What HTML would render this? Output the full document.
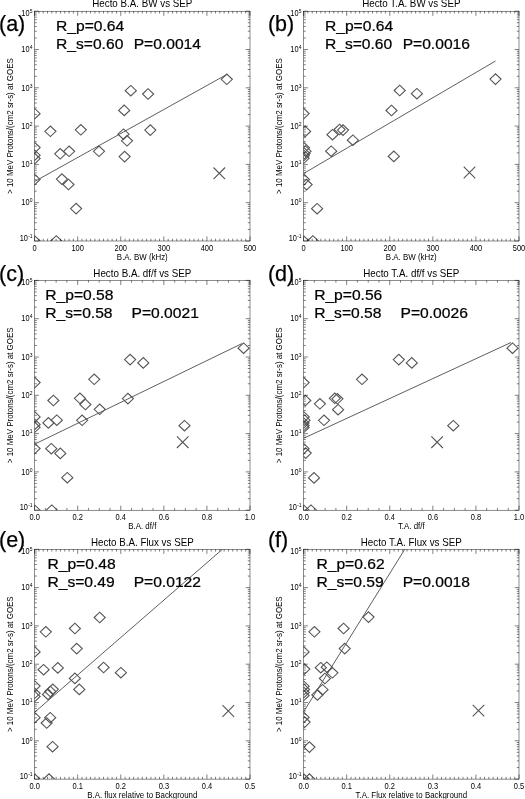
<!DOCTYPE html>
<html><head><meta charset="utf-8"><style>
html,body{margin:0;padding:0;background:#fff;}
svg{display:block;filter:blur(0.5px);}
text{font-family:"Liberation Sans", sans-serif;fill:#000;} .big{stroke:#000;stroke-width:0.25px;}
</style></head><body>
<svg width="525" height="799" viewBox="0 0 525 799">
<rect width="525" height="799" fill="#fff"/>
<clipPath id="c0"><rect x="34.6" y="11.2" width="215.4" height="229.8"/></clipPath>
<g clip-path="url(#c0)" fill="none" stroke="#555" stroke-width="1.1">
<path d="M221.25 79.30L226.80 74.00L232.35 79.30L226.80 84.60Z"/>
<path d="M125.25 90.70L130.80 85.40L136.35 90.70L130.80 96.00Z"/>
<path d="M142.55 94.00L148.10 88.70L153.65 94.00L148.10 99.30Z"/>
<path d="M118.65 110.40L124.20 105.10L129.75 110.40L124.20 115.70Z"/>
<path d="M29.05 113.70L34.60 108.40L40.15 113.70L34.60 119.00Z"/>
<path d="M44.85 131.30L50.40 126.00L55.95 131.30L50.40 136.60Z"/>
<path d="M75.25 129.80L80.80 124.50L86.35 129.80L80.80 135.10Z"/>
<path d="M117.95 134.20L123.50 128.90L129.05 134.20L123.50 139.50Z"/>
<path d="M121.45 140.80L127.00 135.50L132.55 140.80L127.00 146.10Z"/>
<path d="M144.75 130.10L150.30 124.80L155.85 130.10L150.30 135.40Z"/>
<path d="M29.05 147.60L34.60 142.30L40.15 147.60L34.60 152.90Z"/>
<path d="M29.05 155.20L34.60 149.90L40.15 155.20L34.60 160.50Z"/>
<path d="M29.05 158.60L34.60 153.30L40.15 158.60L34.60 163.90Z"/>
<path d="M54.65 153.80L60.20 148.50L65.75 153.80L60.20 159.10Z"/>
<path d="M63.55 151.30L69.10 146.00L74.65 151.30L69.10 156.60Z"/>
<path d="M93.45 151.30L99.00 146.00L104.55 151.30L99.00 156.60Z"/>
<path d="M119.05 156.60L124.60 151.30L130.15 156.60L124.60 161.90Z"/>
<path d="M29.05 179.50L34.60 174.20L40.15 179.50L34.60 184.80Z"/>
<path d="M56.35 179.10L61.90 173.80L67.45 179.10L61.90 184.40Z"/>
<path d="M62.95 184.50L68.50 179.20L74.05 184.50L68.50 189.80Z"/>
<path d="M70.55 208.60L76.10 203.30L81.65 208.60L76.10 213.90Z"/>
<path d="M50.75 241.00L56.30 235.70L61.85 241.00L56.30 246.30Z"/>
<path d="M29.05 241.00L34.60 235.70L40.15 241.00L34.60 246.30Z"/>
<line x1="34.6" y1="181.5" x2="226.5" y2="74.6" stroke-width="0.95"/>
<path d="M213.50 167.50L225.10 179.10M213.50 179.10L225.10 167.50"/>
</g>
<rect x="34.6" y="11.2" width="215.4" height="229.8" fill="none" stroke="#000" stroke-width="0.45"/>
<path d="M34.60 241.00L38.90 241.00M250.00 241.00L245.70 241.00M34.60 229.47L36.80 229.47M250.00 229.47L247.80 229.47M34.60 222.73L36.80 222.73M250.00 222.73L247.80 222.73M34.60 217.94L36.80 217.94M250.00 217.94L247.80 217.94M34.60 214.23L36.80 214.23M250.00 214.23L247.80 214.23M34.60 211.20L36.80 211.20M250.00 211.20L247.80 211.20M34.60 208.63L36.80 208.63M250.00 208.63L247.80 208.63M34.60 206.41L36.80 206.41M250.00 206.41L247.80 206.41M34.60 204.45L36.80 204.45M250.00 204.45L247.80 204.45M34.60 202.70L38.90 202.70M250.00 202.70L245.70 202.70M34.60 191.17L36.80 191.17M250.00 191.17L247.80 191.17M34.60 184.43L36.80 184.43M250.00 184.43L247.80 184.43M34.60 179.64L36.80 179.64M250.00 179.64L247.80 179.64M34.60 175.93L36.80 175.93M250.00 175.93L247.80 175.93M34.60 172.90L36.80 172.90M250.00 172.90L247.80 172.90M34.60 170.33L36.80 170.33M250.00 170.33L247.80 170.33M34.60 168.11L36.80 168.11M250.00 168.11L247.80 168.11M34.60 166.15L36.80 166.15M250.00 166.15L247.80 166.15M34.60 164.40L38.90 164.40M250.00 164.40L245.70 164.40M34.60 152.87L36.80 152.87M250.00 152.87L247.80 152.87M34.60 146.13L36.80 146.13M250.00 146.13L247.80 146.13M34.60 141.34L36.80 141.34M250.00 141.34L247.80 141.34M34.60 137.63L36.80 137.63M250.00 137.63L247.80 137.63M34.60 134.60L36.80 134.60M250.00 134.60L247.80 134.60M34.60 132.03L36.80 132.03M250.00 132.03L247.80 132.03M34.60 129.81L36.80 129.81M250.00 129.81L247.80 129.81M34.60 127.85L36.80 127.85M250.00 127.85L247.80 127.85M34.60 126.10L38.90 126.10M250.00 126.10L245.70 126.10M34.60 114.57L36.80 114.57M250.00 114.57L247.80 114.57M34.60 107.83L36.80 107.83M250.00 107.83L247.80 107.83M34.60 103.04L36.80 103.04M250.00 103.04L247.80 103.04M34.60 99.33L36.80 99.33M250.00 99.33L247.80 99.33M34.60 96.30L36.80 96.30M250.00 96.30L247.80 96.30M34.60 93.73L36.80 93.73M250.00 93.73L247.80 93.73M34.60 91.51L36.80 91.51M250.00 91.51L247.80 91.51M34.60 89.55L36.80 89.55M250.00 89.55L247.80 89.55M34.60 87.80L38.90 87.80M250.00 87.80L245.70 87.80M34.60 76.27L36.80 76.27M250.00 76.27L247.80 76.27M34.60 69.53L36.80 69.53M250.00 69.53L247.80 69.53M34.60 64.74L36.80 64.74M250.00 64.74L247.80 64.74M34.60 61.03L36.80 61.03M250.00 61.03L247.80 61.03M34.60 58.00L36.80 58.00M250.00 58.00L247.80 58.00M34.60 55.43L36.80 55.43M250.00 55.43L247.80 55.43M34.60 53.21L36.80 53.21M250.00 53.21L247.80 53.21M34.60 51.25L36.80 51.25M250.00 51.25L247.80 51.25M34.60 49.50L38.90 49.50M250.00 49.50L245.70 49.50M34.60 37.97L36.80 37.97M250.00 37.97L247.80 37.97M34.60 31.23L36.80 31.23M250.00 31.23L247.80 31.23M34.60 26.44L36.80 26.44M250.00 26.44L247.80 26.44M34.60 22.73L36.80 22.73M250.00 22.73L247.80 22.73M34.60 19.70L36.80 19.70M250.00 19.70L247.80 19.70M34.60 17.13L36.80 17.13M250.00 17.13L247.80 17.13M34.60 14.91L36.80 14.91M250.00 14.91L247.80 14.91M34.60 12.95L36.80 12.95M250.00 12.95L247.80 12.95M34.60 11.20L38.90 11.20M250.00 11.20L245.70 11.20M34.60 241.00L34.60 236.40M34.60 11.20L34.60 15.80M38.91 241.00L38.91 238.70M38.91 11.20L38.91 13.50M43.22 241.00L43.22 238.70M43.22 11.20L43.22 13.50M47.52 241.00L47.52 238.70M47.52 11.20L47.52 13.50M51.83 241.00L51.83 238.70M51.83 11.20L51.83 13.50M56.14 241.00L56.14 238.70M56.14 11.20L56.14 13.50M60.45 241.00L60.45 238.70M60.45 11.20L60.45 13.50M64.76 241.00L64.76 238.70M64.76 11.20L64.76 13.50M69.06 241.00L69.06 238.70M69.06 11.20L69.06 13.50M73.37 241.00L73.37 238.70M73.37 11.20L73.37 13.50M77.68 241.00L77.68 236.40M77.68 11.20L77.68 15.80M81.99 241.00L81.99 238.70M81.99 11.20L81.99 13.50M86.30 241.00L86.30 238.70M86.30 11.20L86.30 13.50M90.60 241.00L90.60 238.70M90.60 11.20L90.60 13.50M94.91 241.00L94.91 238.70M94.91 11.20L94.91 13.50M99.22 241.00L99.22 238.70M99.22 11.20L99.22 13.50M103.53 241.00L103.53 238.70M103.53 11.20L103.53 13.50M107.84 241.00L107.84 238.70M107.84 11.20L107.84 13.50M112.14 241.00L112.14 238.70M112.14 11.20L112.14 13.50M116.45 241.00L116.45 238.70M116.45 11.20L116.45 13.50M120.76 241.00L120.76 236.40M120.76 11.20L120.76 15.80M125.07 241.00L125.07 238.70M125.07 11.20L125.07 13.50M129.38 241.00L129.38 238.70M129.38 11.20L129.38 13.50M133.68 241.00L133.68 238.70M133.68 11.20L133.68 13.50M137.99 241.00L137.99 238.70M137.99 11.20L137.99 13.50M142.30 241.00L142.30 238.70M142.30 11.20L142.30 13.50M146.61 241.00L146.61 238.70M146.61 11.20L146.61 13.50M150.92 241.00L150.92 238.70M150.92 11.20L150.92 13.50M155.22 241.00L155.22 238.70M155.22 11.20L155.22 13.50M159.53 241.00L159.53 238.70M159.53 11.20L159.53 13.50M163.84 241.00L163.84 236.40M163.84 11.20L163.84 15.80M168.15 241.00L168.15 238.70M168.15 11.20L168.15 13.50M172.46 241.00L172.46 238.70M172.46 11.20L172.46 13.50M176.76 241.00L176.76 238.70M176.76 11.20L176.76 13.50M181.07 241.00L181.07 238.70M181.07 11.20L181.07 13.50M185.38 241.00L185.38 238.70M185.38 11.20L185.38 13.50M189.69 241.00L189.69 238.70M189.69 11.20L189.69 13.50M194.00 241.00L194.00 238.70M194.00 11.20L194.00 13.50M198.30 241.00L198.30 238.70M198.30 11.20L198.30 13.50M202.61 241.00L202.61 238.70M202.61 11.20L202.61 13.50M206.92 241.00L206.92 236.40M206.92 11.20L206.92 15.80M211.23 241.00L211.23 238.70M211.23 11.20L211.23 13.50M215.54 241.00L215.54 238.70M215.54 11.20L215.54 13.50M219.84 241.00L219.84 238.70M219.84 11.20L219.84 13.50M224.15 241.00L224.15 238.70M224.15 11.20L224.15 13.50M228.46 241.00L228.46 238.70M228.46 11.20L228.46 13.50M232.77 241.00L232.77 238.70M232.77 11.20L232.77 13.50M237.08 241.00L237.08 238.70M237.08 11.20L237.08 13.50M241.38 241.00L241.38 238.70M241.38 11.20L241.38 13.50M245.69 241.00L245.69 238.70M245.69 11.20L245.69 13.50M250.00 241.00L250.00 236.40M250.00 11.20L250.00 15.80" stroke="#000" stroke-width="0.5" fill="none"/>
<text transform="translate(34.60,251.00) scale(1.0,1.14)" font-size="7.5" text-anchor="middle" >0</text>
<text transform="translate(77.68,251.00) scale(1.0,1.14)" font-size="7.5" text-anchor="middle" >100</text>
<text transform="translate(120.76,251.00) scale(1.0,1.14)" font-size="7.5" text-anchor="middle" >200</text>
<text transform="translate(163.84,251.00) scale(1.0,1.14)" font-size="7.5" text-anchor="middle" >300</text>
<text transform="translate(206.92,251.00) scale(1.0,1.14)" font-size="7.5" text-anchor="middle" >400</text>
<text transform="translate(250.00,251.00) scale(1.0,1.14)" font-size="7.5" text-anchor="middle" >500</text>
<text transform="translate(32.60,241.15) scale(1,1.15)" font-size="7.4" text-anchor="end">10<tspan font-size="5" dx="0.3" dy="-2.6">-1</tspan></text>
<text transform="translate(32.60,205.45) scale(1,1.15)" font-size="7.4" text-anchor="end">10<tspan font-size="5" dx="0.3" dy="-2.6">0</tspan></text>
<text transform="translate(32.60,167.15) scale(1,1.15)" font-size="7.4" text-anchor="end">10<tspan font-size="5" dx="0.3" dy="-2.6">1</tspan></text>
<text transform="translate(32.60,128.85) scale(1,1.15)" font-size="7.4" text-anchor="end">10<tspan font-size="5" dx="0.3" dy="-2.6">2</tspan></text>
<text transform="translate(32.60,90.55) scale(1,1.15)" font-size="7.4" text-anchor="end">10<tspan font-size="5" dx="0.3" dy="-2.6">3</tspan></text>
<text transform="translate(32.60,52.25) scale(1,1.15)" font-size="7.4" text-anchor="end">10<tspan font-size="5" dx="0.3" dy="-2.6">4</tspan></text>
<text transform="translate(32.60,15.95) scale(1,1.15)" font-size="7.4" text-anchor="end">10<tspan font-size="5" dx="0.3" dy="-2.6">5</tspan></text>
<text transform="translate(142.30,7.40) scale(1.0,1.14)" font-size="9.8" text-anchor="middle" >Hecto B.A. BW vs SEP</text>
<text transform="translate(142.30,259.80) scale(1.0,1.14)" font-size="7.9" text-anchor="middle" >B.A. BW (kHz)</text>
<text transform="translate(13.00,126.10) rotate(-90) scale(1,1.22)" x="0" y="0" font-size="7.95" text-anchor="middle">&gt; 10 MeV Protons/(cm2 sr-s) at GOES</text>
<text x="-1.00" y="30.60" font-size="21.5" text-anchor="start" class="big">(a)</text>
<text transform="translate(56.05,31.00) scale(1.015,1.0)" font-size="15.4" text-anchor="start" class="big">R_p=0.64</text>
<text transform="translate(56.05,49.00) scale(1.015,1.0)" font-size="15.4" text-anchor="start" class="big">R_s=0.60</text>
<text transform="translate(133.65,49.00) scale(1.015,1.0)" font-size="15.4" text-anchor="start" class="big">P=0.0014</text>
<clipPath id="c1"><rect x="303.6" y="11.2" width="215.4" height="229.8"/></clipPath>
<g clip-path="url(#c1)" fill="none" stroke="#555" stroke-width="1.1">
<path d="M489.95 79.10L495.50 73.80L501.05 79.10L495.50 84.40Z"/>
<path d="M394.15 90.50L399.70 85.20L405.25 90.50L399.70 95.80Z"/>
<path d="M411.35 93.70L416.90 88.40L422.45 93.70L416.90 99.00Z"/>
<path d="M385.95 110.50L391.50 105.20L397.05 110.50L391.50 115.80Z"/>
<path d="M298.05 113.60L303.60 108.30L309.15 113.60L303.60 118.90Z"/>
<path d="M299.55 131.40L305.10 126.10L310.65 131.40L305.10 136.70Z"/>
<path d="M334.05 129.50L339.60 124.20L345.15 129.50L339.60 134.80Z"/>
<path d="M337.45 130.10L343.00 124.80L348.55 130.10L343.00 135.40Z"/>
<path d="M326.95 134.70L332.50 129.40L338.05 134.70L332.50 140.00Z"/>
<path d="M347.35 140.20L352.90 134.90L358.45 140.20L352.90 145.50Z"/>
<path d="M325.65 151.20L331.20 145.90L336.75 151.20L331.20 156.50Z"/>
<path d="M388.25 156.40L393.80 151.10L399.35 156.40L393.80 161.70Z"/>
<path d="M298.45 147.80L304.00 142.50L309.55 147.80L304.00 153.10Z"/>
<path d="M299.95 151.20L305.50 145.90L311.05 151.20L305.50 156.50Z"/>
<path d="M298.95 153.50L304.50 148.20L310.05 153.50L304.50 158.80Z"/>
<path d="M298.25 155.50L303.80 150.20L309.35 155.50L303.80 160.80Z"/>
<path d="M298.05 158.30L303.60 153.00L309.15 158.30L303.60 163.60Z"/>
<path d="M298.45 179.60L304.00 174.30L309.55 179.60L304.00 184.90Z"/>
<path d="M301.05 184.60L306.60 179.30L312.15 184.60L306.60 189.90Z"/>
<path d="M311.55 208.70L317.10 203.40L322.65 208.70L317.10 214.00Z"/>
<path d="M307.35 241.00L312.90 235.70L318.45 241.00L312.90 246.30Z"/>
<path d="M298.05 241.00L303.60 235.70L309.15 241.00L303.60 246.30Z"/>
<line x1="303.6" y1="173.5" x2="495.5" y2="61.0" stroke-width="0.95"/>
<path d="M463.70 166.70L475.30 178.30M463.70 178.30L475.30 166.70"/>
</g>
<rect x="303.6" y="11.2" width="215.4" height="229.8" fill="none" stroke="#000" stroke-width="0.45"/>
<path d="M303.60 241.00L307.90 241.00M519.00 241.00L514.70 241.00M303.60 229.47L305.80 229.47M519.00 229.47L516.80 229.47M303.60 222.73L305.80 222.73M519.00 222.73L516.80 222.73M303.60 217.94L305.80 217.94M519.00 217.94L516.80 217.94M303.60 214.23L305.80 214.23M519.00 214.23L516.80 214.23M303.60 211.20L305.80 211.20M519.00 211.20L516.80 211.20M303.60 208.63L305.80 208.63M519.00 208.63L516.80 208.63M303.60 206.41L305.80 206.41M519.00 206.41L516.80 206.41M303.60 204.45L305.80 204.45M519.00 204.45L516.80 204.45M303.60 202.70L307.90 202.70M519.00 202.70L514.70 202.70M303.60 191.17L305.80 191.17M519.00 191.17L516.80 191.17M303.60 184.43L305.80 184.43M519.00 184.43L516.80 184.43M303.60 179.64L305.80 179.64M519.00 179.64L516.80 179.64M303.60 175.93L305.80 175.93M519.00 175.93L516.80 175.93M303.60 172.90L305.80 172.90M519.00 172.90L516.80 172.90M303.60 170.33L305.80 170.33M519.00 170.33L516.80 170.33M303.60 168.11L305.80 168.11M519.00 168.11L516.80 168.11M303.60 166.15L305.80 166.15M519.00 166.15L516.80 166.15M303.60 164.40L307.90 164.40M519.00 164.40L514.70 164.40M303.60 152.87L305.80 152.87M519.00 152.87L516.80 152.87M303.60 146.13L305.80 146.13M519.00 146.13L516.80 146.13M303.60 141.34L305.80 141.34M519.00 141.34L516.80 141.34M303.60 137.63L305.80 137.63M519.00 137.63L516.80 137.63M303.60 134.60L305.80 134.60M519.00 134.60L516.80 134.60M303.60 132.03L305.80 132.03M519.00 132.03L516.80 132.03M303.60 129.81L305.80 129.81M519.00 129.81L516.80 129.81M303.60 127.85L305.80 127.85M519.00 127.85L516.80 127.85M303.60 126.10L307.90 126.10M519.00 126.10L514.70 126.10M303.60 114.57L305.80 114.57M519.00 114.57L516.80 114.57M303.60 107.83L305.80 107.83M519.00 107.83L516.80 107.83M303.60 103.04L305.80 103.04M519.00 103.04L516.80 103.04M303.60 99.33L305.80 99.33M519.00 99.33L516.80 99.33M303.60 96.30L305.80 96.30M519.00 96.30L516.80 96.30M303.60 93.73L305.80 93.73M519.00 93.73L516.80 93.73M303.60 91.51L305.80 91.51M519.00 91.51L516.80 91.51M303.60 89.55L305.80 89.55M519.00 89.55L516.80 89.55M303.60 87.80L307.90 87.80M519.00 87.80L514.70 87.80M303.60 76.27L305.80 76.27M519.00 76.27L516.80 76.27M303.60 69.53L305.80 69.53M519.00 69.53L516.80 69.53M303.60 64.74L305.80 64.74M519.00 64.74L516.80 64.74M303.60 61.03L305.80 61.03M519.00 61.03L516.80 61.03M303.60 58.00L305.80 58.00M519.00 58.00L516.80 58.00M303.60 55.43L305.80 55.43M519.00 55.43L516.80 55.43M303.60 53.21L305.80 53.21M519.00 53.21L516.80 53.21M303.60 51.25L305.80 51.25M519.00 51.25L516.80 51.25M303.60 49.50L307.90 49.50M519.00 49.50L514.70 49.50M303.60 37.97L305.80 37.97M519.00 37.97L516.80 37.97M303.60 31.23L305.80 31.23M519.00 31.23L516.80 31.23M303.60 26.44L305.80 26.44M519.00 26.44L516.80 26.44M303.60 22.73L305.80 22.73M519.00 22.73L516.80 22.73M303.60 19.70L305.80 19.70M519.00 19.70L516.80 19.70M303.60 17.13L305.80 17.13M519.00 17.13L516.80 17.13M303.60 14.91L305.80 14.91M519.00 14.91L516.80 14.91M303.60 12.95L305.80 12.95M519.00 12.95L516.80 12.95M303.60 11.20L307.90 11.20M519.00 11.20L514.70 11.20M303.60 241.00L303.60 236.40M303.60 11.20L303.60 15.80M307.91 241.00L307.91 238.70M307.91 11.20L307.91 13.50M312.22 241.00L312.22 238.70M312.22 11.20L312.22 13.50M316.52 241.00L316.52 238.70M316.52 11.20L316.52 13.50M320.83 241.00L320.83 238.70M320.83 11.20L320.83 13.50M325.14 241.00L325.14 238.70M325.14 11.20L325.14 13.50M329.45 241.00L329.45 238.70M329.45 11.20L329.45 13.50M333.76 241.00L333.76 238.70M333.76 11.20L333.76 13.50M338.06 241.00L338.06 238.70M338.06 11.20L338.06 13.50M342.37 241.00L342.37 238.70M342.37 11.20L342.37 13.50M346.68 241.00L346.68 236.40M346.68 11.20L346.68 15.80M350.99 241.00L350.99 238.70M350.99 11.20L350.99 13.50M355.30 241.00L355.30 238.70M355.30 11.20L355.30 13.50M359.60 241.00L359.60 238.70M359.60 11.20L359.60 13.50M363.91 241.00L363.91 238.70M363.91 11.20L363.91 13.50M368.22 241.00L368.22 238.70M368.22 11.20L368.22 13.50M372.53 241.00L372.53 238.70M372.53 11.20L372.53 13.50M376.84 241.00L376.84 238.70M376.84 11.20L376.84 13.50M381.14 241.00L381.14 238.70M381.14 11.20L381.14 13.50M385.45 241.00L385.45 238.70M385.45 11.20L385.45 13.50M389.76 241.00L389.76 236.40M389.76 11.20L389.76 15.80M394.07 241.00L394.07 238.70M394.07 11.20L394.07 13.50M398.38 241.00L398.38 238.70M398.38 11.20L398.38 13.50M402.68 241.00L402.68 238.70M402.68 11.20L402.68 13.50M406.99 241.00L406.99 238.70M406.99 11.20L406.99 13.50M411.30 241.00L411.30 238.70M411.30 11.20L411.30 13.50M415.61 241.00L415.61 238.70M415.61 11.20L415.61 13.50M419.92 241.00L419.92 238.70M419.92 11.20L419.92 13.50M424.22 241.00L424.22 238.70M424.22 11.20L424.22 13.50M428.53 241.00L428.53 238.70M428.53 11.20L428.53 13.50M432.84 241.00L432.84 236.40M432.84 11.20L432.84 15.80M437.15 241.00L437.15 238.70M437.15 11.20L437.15 13.50M441.46 241.00L441.46 238.70M441.46 11.20L441.46 13.50M445.76 241.00L445.76 238.70M445.76 11.20L445.76 13.50M450.07 241.00L450.07 238.70M450.07 11.20L450.07 13.50M454.38 241.00L454.38 238.70M454.38 11.20L454.38 13.50M458.69 241.00L458.69 238.70M458.69 11.20L458.69 13.50M463.00 241.00L463.00 238.70M463.00 11.20L463.00 13.50M467.30 241.00L467.30 238.70M467.30 11.20L467.30 13.50M471.61 241.00L471.61 238.70M471.61 11.20L471.61 13.50M475.92 241.00L475.92 236.40M475.92 11.20L475.92 15.80M480.23 241.00L480.23 238.70M480.23 11.20L480.23 13.50M484.54 241.00L484.54 238.70M484.54 11.20L484.54 13.50M488.84 241.00L488.84 238.70M488.84 11.20L488.84 13.50M493.15 241.00L493.15 238.70M493.15 11.20L493.15 13.50M497.46 241.00L497.46 238.70M497.46 11.20L497.46 13.50M501.77 241.00L501.77 238.70M501.77 11.20L501.77 13.50M506.08 241.00L506.08 238.70M506.08 11.20L506.08 13.50M510.38 241.00L510.38 238.70M510.38 11.20L510.38 13.50M514.69 241.00L514.69 238.70M514.69 11.20L514.69 13.50M519.00 241.00L519.00 236.40M519.00 11.20L519.00 15.80" stroke="#000" stroke-width="0.5" fill="none"/>
<text transform="translate(303.60,251.00) scale(1.0,1.14)" font-size="7.5" text-anchor="middle" >0</text>
<text transform="translate(346.68,251.00) scale(1.0,1.14)" font-size="7.5" text-anchor="middle" >100</text>
<text transform="translate(389.76,251.00) scale(1.0,1.14)" font-size="7.5" text-anchor="middle" >200</text>
<text transform="translate(432.84,251.00) scale(1.0,1.14)" font-size="7.5" text-anchor="middle" >300</text>
<text transform="translate(475.92,251.00) scale(1.0,1.14)" font-size="7.5" text-anchor="middle" >400</text>
<text transform="translate(519.00,251.00) scale(1.0,1.14)" font-size="7.5" text-anchor="middle" >500</text>
<text transform="translate(301.60,241.15) scale(1,1.15)" font-size="7.4" text-anchor="end">10<tspan font-size="5" dx="0.3" dy="-2.6">-1</tspan></text>
<text transform="translate(301.60,205.45) scale(1,1.15)" font-size="7.4" text-anchor="end">10<tspan font-size="5" dx="0.3" dy="-2.6">0</tspan></text>
<text transform="translate(301.60,167.15) scale(1,1.15)" font-size="7.4" text-anchor="end">10<tspan font-size="5" dx="0.3" dy="-2.6">1</tspan></text>
<text transform="translate(301.60,128.85) scale(1,1.15)" font-size="7.4" text-anchor="end">10<tspan font-size="5" dx="0.3" dy="-2.6">2</tspan></text>
<text transform="translate(301.60,90.55) scale(1,1.15)" font-size="7.4" text-anchor="end">10<tspan font-size="5" dx="0.3" dy="-2.6">3</tspan></text>
<text transform="translate(301.60,52.25) scale(1,1.15)" font-size="7.4" text-anchor="end">10<tspan font-size="5" dx="0.3" dy="-2.6">4</tspan></text>
<text transform="translate(301.60,15.95) scale(1,1.15)" font-size="7.4" text-anchor="end">10<tspan font-size="5" dx="0.3" dy="-2.6">5</tspan></text>
<text transform="translate(411.30,7.40) scale(1.0,1.14)" font-size="9.8" text-anchor="middle" >Hecto T.A. BW vs SEP</text>
<text transform="translate(411.30,259.80) scale(1.0,1.14)" font-size="7.9" text-anchor="middle" >B.A. BW (kHz)</text>
<text transform="translate(282.00,126.10) rotate(-90) scale(1,1.22)" x="0" y="0" font-size="7.95" text-anchor="middle">&gt; 10 MeV Protons/(cm2 sr-s) at GOES</text>
<text x="267.90" y="30.60" font-size="21.5" text-anchor="start" class="big">(b)</text>
<text transform="translate(324.95,31.00) scale(1.015,1.0)" font-size="15.4" text-anchor="start" class="big">R_p=0.64</text>
<text transform="translate(324.95,49.00) scale(1.015,1.0)" font-size="15.4" text-anchor="start" class="big">R_s=0.60</text>
<text transform="translate(402.65,49.00) scale(1.015,1.0)" font-size="15.4" text-anchor="start" class="big">P=0.0016</text>
<clipPath id="c2"><rect x="34.6" y="280.4" width="215.4" height="229.8"/></clipPath>
<g clip-path="url(#c2)" fill="none" stroke="#555" stroke-width="1.1">
<path d="M238.05 348.20L243.60 342.90L249.15 348.20L243.60 353.50Z"/>
<path d="M124.55 359.60L130.10 354.30L135.65 359.60L130.10 364.90Z"/>
<path d="M137.75 362.90L143.30 357.60L148.85 362.90L143.30 368.20Z"/>
<path d="M88.65 379.30L94.20 374.00L99.75 379.30L94.20 384.60Z"/>
<path d="M29.05 382.60L34.60 377.30L40.15 382.60L34.60 387.90Z"/>
<path d="M47.85 400.50L53.40 395.20L58.95 400.50L53.40 405.80Z"/>
<path d="M74.35 398.30L79.90 393.00L85.45 398.30L79.90 403.60Z"/>
<path d="M79.85 404.50L85.40 399.20L90.95 404.50L85.40 409.80Z"/>
<path d="M122.35 398.60L127.90 393.30L133.45 398.60L127.90 403.90Z"/>
<path d="M94.15 409.30L99.70 404.00L105.25 409.30L99.70 414.60Z"/>
<path d="M29.05 416.90L34.60 411.60L40.15 416.90L34.60 422.20Z"/>
<path d="M29.05 424.40L34.60 419.10L40.15 424.40L34.60 429.70Z"/>
<path d="M29.05 427.30L34.60 422.00L40.15 427.30L34.60 432.60Z"/>
<path d="M42.85 422.90L48.40 417.60L53.95 422.90L48.40 428.20Z"/>
<path d="M51.25 420.20L56.80 414.90L62.35 420.20L56.80 425.50Z"/>
<path d="M76.55 420.30L82.10 415.00L87.65 420.30L82.10 425.60Z"/>
<path d="M178.95 425.70L184.50 420.40L190.05 425.70L184.50 431.00Z"/>
<path d="M29.05 448.50L34.60 443.20L40.15 448.50L34.60 453.80Z"/>
<path d="M45.75 448.70L51.30 443.40L56.85 448.70L51.30 454.00Z"/>
<path d="M54.75 453.40L60.30 448.10L65.85 453.40L60.30 458.70Z"/>
<path d="M61.75 477.70L67.30 472.40L72.85 477.70L67.30 483.00Z"/>
<path d="M46.25 510.20L51.80 504.90L57.35 510.20L51.80 515.50Z"/>
<path d="M29.05 510.20L34.60 504.90L40.15 510.20L34.60 515.50Z"/>
<line x1="34.6" y1="444.2" x2="241.9" y2="343.6" stroke-width="0.95"/>
<path d="M176.90 436.40L188.50 448.00M176.90 448.00L188.50 436.40"/>
</g>
<rect x="34.6" y="280.4" width="215.4" height="229.8" fill="none" stroke="#000" stroke-width="0.45"/>
<path d="M34.60 510.20L38.90 510.20M250.00 510.20L245.70 510.20M34.60 498.67L36.80 498.67M250.00 498.67L247.80 498.67M34.60 491.93L36.80 491.93M250.00 491.93L247.80 491.93M34.60 487.14L36.80 487.14M250.00 487.14L247.80 487.14M34.60 483.43L36.80 483.43M250.00 483.43L247.80 483.43M34.60 480.40L36.80 480.40M250.00 480.40L247.80 480.40M34.60 477.83L36.80 477.83M250.00 477.83L247.80 477.83M34.60 475.61L36.80 475.61M250.00 475.61L247.80 475.61M34.60 473.65L36.80 473.65M250.00 473.65L247.80 473.65M34.60 471.90L38.90 471.90M250.00 471.90L245.70 471.90M34.60 460.37L36.80 460.37M250.00 460.37L247.80 460.37M34.60 453.63L36.80 453.63M250.00 453.63L247.80 453.63M34.60 448.84L36.80 448.84M250.00 448.84L247.80 448.84M34.60 445.13L36.80 445.13M250.00 445.13L247.80 445.13M34.60 442.10L36.80 442.10M250.00 442.10L247.80 442.10M34.60 439.53L36.80 439.53M250.00 439.53L247.80 439.53M34.60 437.31L36.80 437.31M250.00 437.31L247.80 437.31M34.60 435.35L36.80 435.35M250.00 435.35L247.80 435.35M34.60 433.60L38.90 433.60M250.00 433.60L245.70 433.60M34.60 422.07L36.80 422.07M250.00 422.07L247.80 422.07M34.60 415.33L36.80 415.33M250.00 415.33L247.80 415.33M34.60 410.54L36.80 410.54M250.00 410.54L247.80 410.54M34.60 406.83L36.80 406.83M250.00 406.83L247.80 406.83M34.60 403.80L36.80 403.80M250.00 403.80L247.80 403.80M34.60 401.23L36.80 401.23M250.00 401.23L247.80 401.23M34.60 399.01L36.80 399.01M250.00 399.01L247.80 399.01M34.60 397.05L36.80 397.05M250.00 397.05L247.80 397.05M34.60 395.30L38.90 395.30M250.00 395.30L245.70 395.30M34.60 383.77L36.80 383.77M250.00 383.77L247.80 383.77M34.60 377.03L36.80 377.03M250.00 377.03L247.80 377.03M34.60 372.24L36.80 372.24M250.00 372.24L247.80 372.24M34.60 368.53L36.80 368.53M250.00 368.53L247.80 368.53M34.60 365.50L36.80 365.50M250.00 365.50L247.80 365.50M34.60 362.93L36.80 362.93M250.00 362.93L247.80 362.93M34.60 360.71L36.80 360.71M250.00 360.71L247.80 360.71M34.60 358.75L36.80 358.75M250.00 358.75L247.80 358.75M34.60 357.00L38.90 357.00M250.00 357.00L245.70 357.00M34.60 345.47L36.80 345.47M250.00 345.47L247.80 345.47M34.60 338.73L36.80 338.73M250.00 338.73L247.80 338.73M34.60 333.94L36.80 333.94M250.00 333.94L247.80 333.94M34.60 330.23L36.80 330.23M250.00 330.23L247.80 330.23M34.60 327.20L36.80 327.20M250.00 327.20L247.80 327.20M34.60 324.63L36.80 324.63M250.00 324.63L247.80 324.63M34.60 322.41L36.80 322.41M250.00 322.41L247.80 322.41M34.60 320.45L36.80 320.45M250.00 320.45L247.80 320.45M34.60 318.70L38.90 318.70M250.00 318.70L245.70 318.70M34.60 307.17L36.80 307.17M250.00 307.17L247.80 307.17M34.60 300.43L36.80 300.43M250.00 300.43L247.80 300.43M34.60 295.64L36.80 295.64M250.00 295.64L247.80 295.64M34.60 291.93L36.80 291.93M250.00 291.93L247.80 291.93M34.60 288.90L36.80 288.90M250.00 288.90L247.80 288.90M34.60 286.33L36.80 286.33M250.00 286.33L247.80 286.33M34.60 284.11L36.80 284.11M250.00 284.11L247.80 284.11M34.60 282.15L36.80 282.15M250.00 282.15L247.80 282.15M34.60 280.40L38.90 280.40M250.00 280.40L245.70 280.40M34.60 510.20L34.60 505.60M34.60 280.40L34.60 285.00M45.37 510.20L45.37 507.90M45.37 280.40L45.37 282.70M56.14 510.20L56.14 507.90M56.14 280.40L56.14 282.70M66.91 510.20L66.91 507.90M66.91 280.40L66.91 282.70M77.68 510.20L77.68 505.60M77.68 280.40L77.68 285.00M88.45 510.20L88.45 507.90M88.45 280.40L88.45 282.70M99.22 510.20L99.22 507.90M99.22 280.40L99.22 282.70M109.99 510.20L109.99 507.90M109.99 280.40L109.99 282.70M120.76 510.20L120.76 505.60M120.76 280.40L120.76 285.00M131.53 510.20L131.53 507.90M131.53 280.40L131.53 282.70M142.30 510.20L142.30 507.90M142.30 280.40L142.30 282.70M153.07 510.20L153.07 507.90M153.07 280.40L153.07 282.70M163.84 510.20L163.84 505.60M163.84 280.40L163.84 285.00M174.61 510.20L174.61 507.90M174.61 280.40L174.61 282.70M185.38 510.20L185.38 507.90M185.38 280.40L185.38 282.70M196.15 510.20L196.15 507.90M196.15 280.40L196.15 282.70M206.92 510.20L206.92 505.60M206.92 280.40L206.92 285.00M217.69 510.20L217.69 507.90M217.69 280.40L217.69 282.70M228.46 510.20L228.46 507.90M228.46 280.40L228.46 282.70M239.23 510.20L239.23 507.90M239.23 280.40L239.23 282.70M250.00 510.20L250.00 505.60M250.00 280.40L250.00 285.00" stroke="#000" stroke-width="0.5" fill="none"/>
<text transform="translate(34.60,520.20) scale(1.0,1.14)" font-size="7.5" text-anchor="middle" >0.0</text>
<text transform="translate(77.68,520.20) scale(1.0,1.14)" font-size="7.5" text-anchor="middle" >0.2</text>
<text transform="translate(120.76,520.20) scale(1.0,1.14)" font-size="7.5" text-anchor="middle" >0.4</text>
<text transform="translate(163.84,520.20) scale(1.0,1.14)" font-size="7.5" text-anchor="middle" >0.6</text>
<text transform="translate(206.92,520.20) scale(1.0,1.14)" font-size="7.5" text-anchor="middle" >0.8</text>
<text transform="translate(250.00,520.20) scale(1.0,1.14)" font-size="7.5" text-anchor="middle" >1.0</text>
<text transform="translate(32.60,510.35) scale(1,1.15)" font-size="7.4" text-anchor="end">10<tspan font-size="5" dx="0.3" dy="-2.6">-1</tspan></text>
<text transform="translate(32.60,474.65) scale(1,1.15)" font-size="7.4" text-anchor="end">10<tspan font-size="5" dx="0.3" dy="-2.6">0</tspan></text>
<text transform="translate(32.60,436.35) scale(1,1.15)" font-size="7.4" text-anchor="end">10<tspan font-size="5" dx="0.3" dy="-2.6">1</tspan></text>
<text transform="translate(32.60,398.05) scale(1,1.15)" font-size="7.4" text-anchor="end">10<tspan font-size="5" dx="0.3" dy="-2.6">2</tspan></text>
<text transform="translate(32.60,359.75) scale(1,1.15)" font-size="7.4" text-anchor="end">10<tspan font-size="5" dx="0.3" dy="-2.6">3</tspan></text>
<text transform="translate(32.60,321.45) scale(1,1.15)" font-size="7.4" text-anchor="end">10<tspan font-size="5" dx="0.3" dy="-2.6">4</tspan></text>
<text transform="translate(32.60,285.15) scale(1,1.15)" font-size="7.4" text-anchor="end">10<tspan font-size="5" dx="0.3" dy="-2.6">5</tspan></text>
<text transform="translate(142.30,276.60) scale(1.0,1.14)" font-size="9.8" text-anchor="middle" >Hecto B.A. df/f vs SEP</text>
<text transform="translate(142.30,529.00) scale(1.0,1.14)" font-size="7.9" text-anchor="middle" >B.A. df/f</text>
<text transform="translate(13.00,395.30) rotate(-90) scale(1,1.22)" x="0" y="0" font-size="7.95" text-anchor="middle">&gt; 10 MeV Protons/(cm2 sr-s) at GOES</text>
<text x="-1.00" y="280.80" font-size="21.5" text-anchor="start" class="big">(c)</text>
<text transform="translate(45.25,300.10) scale(1.015,1.0)" font-size="15.4" text-anchor="start" class="big">R_p=0.58</text>
<text transform="translate(45.25,318.10) scale(1.015,1.0)" font-size="15.4" text-anchor="start" class="big">R_s=0.58</text>
<text transform="translate(131.55,318.10) scale(1.015,1.0)" font-size="15.4" text-anchor="start" class="big">P=0.0021</text>
<clipPath id="c3"><rect x="303.6" y="280.4" width="215.4" height="229.8"/></clipPath>
<g clip-path="url(#c3)" fill="none" stroke="#555" stroke-width="1.1">
<path d="M506.95 348.20L512.50 342.90L518.05 348.20L512.50 353.50Z"/>
<path d="M393.25 359.60L398.80 354.30L404.35 359.60L398.80 364.90Z"/>
<path d="M406.25 362.90L411.80 357.60L417.35 362.90L411.80 368.20Z"/>
<path d="M356.45 379.30L362.00 374.00L367.55 379.30L362.00 384.60Z"/>
<path d="M298.05 382.60L303.60 377.30L309.15 382.60L303.60 387.90Z"/>
<path d="M299.75 400.50L305.30 395.20L310.85 400.50L305.30 405.80Z"/>
<path d="M314.35 403.80L319.90 398.50L325.45 403.80L319.90 409.10Z"/>
<path d="M329.25 398.30L334.80 393.00L340.35 398.30L334.80 403.60Z"/>
<path d="M331.85 398.80L337.40 393.50L342.95 398.80L337.40 404.10Z"/>
<path d="M332.55 409.70L338.10 404.40L343.65 409.70L338.10 415.00Z"/>
<path d="M318.45 420.30L324.00 415.00L329.55 420.30L324.00 425.60Z"/>
<path d="M298.25 417.00L303.80 411.70L309.35 417.00L303.80 422.30Z"/>
<path d="M298.95 420.20L304.50 414.90L310.05 420.20L304.50 425.50Z"/>
<path d="M298.05 423.00L303.60 417.70L309.15 423.00L303.60 428.30Z"/>
<path d="M298.05 425.50L303.60 420.20L309.15 425.50L303.60 430.80Z"/>
<path d="M298.05 427.50L303.60 422.20L309.15 427.50L303.60 432.80Z"/>
<path d="M447.75 425.70L453.30 420.40L458.85 425.70L453.30 431.00Z"/>
<path d="M298.05 448.70L303.60 443.40L309.15 448.70L303.60 454.00Z"/>
<path d="M300.15 453.10L305.70 447.80L311.25 453.10L305.70 458.40Z"/>
<path d="M308.45 477.90L314.00 472.60L319.55 477.90L314.00 483.20Z"/>
<path d="M305.45 510.20L311.00 504.90L316.55 510.20L311.00 515.50Z"/>
<path d="M298.05 510.20L303.60 504.90L309.15 510.20L303.60 515.50Z"/>
<line x1="303.6" y1="438.3" x2="511.0" y2="342.5" stroke-width="0.95"/>
<path d="M431.30 436.40L442.90 448.00M431.30 448.00L442.90 436.40"/>
</g>
<rect x="303.6" y="280.4" width="215.4" height="229.8" fill="none" stroke="#000" stroke-width="0.45"/>
<path d="M303.60 510.20L307.90 510.20M519.00 510.20L514.70 510.20M303.60 498.67L305.80 498.67M519.00 498.67L516.80 498.67M303.60 491.93L305.80 491.93M519.00 491.93L516.80 491.93M303.60 487.14L305.80 487.14M519.00 487.14L516.80 487.14M303.60 483.43L305.80 483.43M519.00 483.43L516.80 483.43M303.60 480.40L305.80 480.40M519.00 480.40L516.80 480.40M303.60 477.83L305.80 477.83M519.00 477.83L516.80 477.83M303.60 475.61L305.80 475.61M519.00 475.61L516.80 475.61M303.60 473.65L305.80 473.65M519.00 473.65L516.80 473.65M303.60 471.90L307.90 471.90M519.00 471.90L514.70 471.90M303.60 460.37L305.80 460.37M519.00 460.37L516.80 460.37M303.60 453.63L305.80 453.63M519.00 453.63L516.80 453.63M303.60 448.84L305.80 448.84M519.00 448.84L516.80 448.84M303.60 445.13L305.80 445.13M519.00 445.13L516.80 445.13M303.60 442.10L305.80 442.10M519.00 442.10L516.80 442.10M303.60 439.53L305.80 439.53M519.00 439.53L516.80 439.53M303.60 437.31L305.80 437.31M519.00 437.31L516.80 437.31M303.60 435.35L305.80 435.35M519.00 435.35L516.80 435.35M303.60 433.60L307.90 433.60M519.00 433.60L514.70 433.60M303.60 422.07L305.80 422.07M519.00 422.07L516.80 422.07M303.60 415.33L305.80 415.33M519.00 415.33L516.80 415.33M303.60 410.54L305.80 410.54M519.00 410.54L516.80 410.54M303.60 406.83L305.80 406.83M519.00 406.83L516.80 406.83M303.60 403.80L305.80 403.80M519.00 403.80L516.80 403.80M303.60 401.23L305.80 401.23M519.00 401.23L516.80 401.23M303.60 399.01L305.80 399.01M519.00 399.01L516.80 399.01M303.60 397.05L305.80 397.05M519.00 397.05L516.80 397.05M303.60 395.30L307.90 395.30M519.00 395.30L514.70 395.30M303.60 383.77L305.80 383.77M519.00 383.77L516.80 383.77M303.60 377.03L305.80 377.03M519.00 377.03L516.80 377.03M303.60 372.24L305.80 372.24M519.00 372.24L516.80 372.24M303.60 368.53L305.80 368.53M519.00 368.53L516.80 368.53M303.60 365.50L305.80 365.50M519.00 365.50L516.80 365.50M303.60 362.93L305.80 362.93M519.00 362.93L516.80 362.93M303.60 360.71L305.80 360.71M519.00 360.71L516.80 360.71M303.60 358.75L305.80 358.75M519.00 358.75L516.80 358.75M303.60 357.00L307.90 357.00M519.00 357.00L514.70 357.00M303.60 345.47L305.80 345.47M519.00 345.47L516.80 345.47M303.60 338.73L305.80 338.73M519.00 338.73L516.80 338.73M303.60 333.94L305.80 333.94M519.00 333.94L516.80 333.94M303.60 330.23L305.80 330.23M519.00 330.23L516.80 330.23M303.60 327.20L305.80 327.20M519.00 327.20L516.80 327.20M303.60 324.63L305.80 324.63M519.00 324.63L516.80 324.63M303.60 322.41L305.80 322.41M519.00 322.41L516.80 322.41M303.60 320.45L305.80 320.45M519.00 320.45L516.80 320.45M303.60 318.70L307.90 318.70M519.00 318.70L514.70 318.70M303.60 307.17L305.80 307.17M519.00 307.17L516.80 307.17M303.60 300.43L305.80 300.43M519.00 300.43L516.80 300.43M303.60 295.64L305.80 295.64M519.00 295.64L516.80 295.64M303.60 291.93L305.80 291.93M519.00 291.93L516.80 291.93M303.60 288.90L305.80 288.90M519.00 288.90L516.80 288.90M303.60 286.33L305.80 286.33M519.00 286.33L516.80 286.33M303.60 284.11L305.80 284.11M519.00 284.11L516.80 284.11M303.60 282.15L305.80 282.15M519.00 282.15L516.80 282.15M303.60 280.40L307.90 280.40M519.00 280.40L514.70 280.40M303.60 510.20L303.60 505.60M303.60 280.40L303.60 285.00M314.37 510.20L314.37 507.90M314.37 280.40L314.37 282.70M325.14 510.20L325.14 507.90M325.14 280.40L325.14 282.70M335.91 510.20L335.91 507.90M335.91 280.40L335.91 282.70M346.68 510.20L346.68 505.60M346.68 280.40L346.68 285.00M357.45 510.20L357.45 507.90M357.45 280.40L357.45 282.70M368.22 510.20L368.22 507.90M368.22 280.40L368.22 282.70M378.99 510.20L378.99 507.90M378.99 280.40L378.99 282.70M389.76 510.20L389.76 505.60M389.76 280.40L389.76 285.00M400.53 510.20L400.53 507.90M400.53 280.40L400.53 282.70M411.30 510.20L411.30 507.90M411.30 280.40L411.30 282.70M422.07 510.20L422.07 507.90M422.07 280.40L422.07 282.70M432.84 510.20L432.84 505.60M432.84 280.40L432.84 285.00M443.61 510.20L443.61 507.90M443.61 280.40L443.61 282.70M454.38 510.20L454.38 507.90M454.38 280.40L454.38 282.70M465.15 510.20L465.15 507.90M465.15 280.40L465.15 282.70M475.92 510.20L475.92 505.60M475.92 280.40L475.92 285.00M486.69 510.20L486.69 507.90M486.69 280.40L486.69 282.70M497.46 510.20L497.46 507.90M497.46 280.40L497.46 282.70M508.23 510.20L508.23 507.90M508.23 280.40L508.23 282.70M519.00 510.20L519.00 505.60M519.00 280.40L519.00 285.00" stroke="#000" stroke-width="0.5" fill="none"/>
<text transform="translate(303.60,520.20) scale(1.0,1.14)" font-size="7.5" text-anchor="middle" >0.0</text>
<text transform="translate(346.68,520.20) scale(1.0,1.14)" font-size="7.5" text-anchor="middle" >0.2</text>
<text transform="translate(389.76,520.20) scale(1.0,1.14)" font-size="7.5" text-anchor="middle" >0.4</text>
<text transform="translate(432.84,520.20) scale(1.0,1.14)" font-size="7.5" text-anchor="middle" >0.6</text>
<text transform="translate(475.92,520.20) scale(1.0,1.14)" font-size="7.5" text-anchor="middle" >0.8</text>
<text transform="translate(519.00,520.20) scale(1.0,1.14)" font-size="7.5" text-anchor="middle" >1.0</text>
<text transform="translate(301.60,510.35) scale(1,1.15)" font-size="7.4" text-anchor="end">10<tspan font-size="5" dx="0.3" dy="-2.6">-1</tspan></text>
<text transform="translate(301.60,474.65) scale(1,1.15)" font-size="7.4" text-anchor="end">10<tspan font-size="5" dx="0.3" dy="-2.6">0</tspan></text>
<text transform="translate(301.60,436.35) scale(1,1.15)" font-size="7.4" text-anchor="end">10<tspan font-size="5" dx="0.3" dy="-2.6">1</tspan></text>
<text transform="translate(301.60,398.05) scale(1,1.15)" font-size="7.4" text-anchor="end">10<tspan font-size="5" dx="0.3" dy="-2.6">2</tspan></text>
<text transform="translate(301.60,359.75) scale(1,1.15)" font-size="7.4" text-anchor="end">10<tspan font-size="5" dx="0.3" dy="-2.6">3</tspan></text>
<text transform="translate(301.60,321.45) scale(1,1.15)" font-size="7.4" text-anchor="end">10<tspan font-size="5" dx="0.3" dy="-2.6">4</tspan></text>
<text transform="translate(301.60,285.15) scale(1,1.15)" font-size="7.4" text-anchor="end">10<tspan font-size="5" dx="0.3" dy="-2.6">5</tspan></text>
<text transform="translate(411.30,276.60) scale(1.0,1.14)" font-size="9.8" text-anchor="middle" >Hecto T.A. df/f vs SEP</text>
<text transform="translate(411.30,529.00) scale(1.0,1.14)" font-size="7.9" text-anchor="middle" >T.A. df/f</text>
<text transform="translate(282.00,395.30) rotate(-90) scale(1,1.22)" x="0" y="0" font-size="7.95" text-anchor="middle">&gt; 10 MeV Protons/(cm2 sr-s) at GOES</text>
<text x="267.90" y="280.80" font-size="21.5" text-anchor="start" class="big">(d)</text>
<text transform="translate(314.15,300.10) scale(1.015,1.0)" font-size="15.4" text-anchor="start" class="big">R_p=0.56</text>
<text transform="translate(314.15,318.10) scale(1.015,1.0)" font-size="15.4" text-anchor="start" class="big">R_s=0.58</text>
<text transform="translate(400.55,318.10) scale(1.015,1.0)" font-size="15.4" text-anchor="start" class="big">P=0.0026</text>
<clipPath id="c4"><rect x="34.6" y="549.3" width="215.4" height="229.8"/></clipPath>
<g clip-path="url(#c4)" fill="none" stroke="#555" stroke-width="1.1">
<path d="M94.15 617.50L99.70 612.20L105.25 617.50L99.70 622.80Z"/>
<path d="M40.25 631.80L45.80 626.50L51.35 631.80L45.80 637.10Z"/>
<path d="M69.35 628.50L74.90 623.20L80.45 628.50L74.90 633.80Z"/>
<path d="M71.15 648.60L76.70 643.30L82.25 648.60L76.70 653.90Z"/>
<path d="M29.05 651.90L34.60 646.60L40.15 651.90L34.60 657.20Z"/>
<path d="M38.05 669.70L43.60 664.40L49.15 669.70L43.60 675.00Z"/>
<path d="M52.25 667.90L57.80 662.60L63.35 667.90L57.80 673.20Z"/>
<path d="M98.05 667.50L103.60 662.20L109.15 667.50L103.60 672.80Z"/>
<path d="M115.35 672.70L120.90 667.40L126.45 672.70L120.90 678.00Z"/>
<path d="M69.35 678.40L74.90 673.10L80.45 678.40L74.90 683.70Z"/>
<path d="M73.75 689.40L79.30 684.10L84.85 689.40L79.30 694.70Z"/>
<path d="M29.05 686.00L34.60 680.70L40.15 686.00L34.60 691.30Z"/>
<path d="M29.05 693.30L34.60 688.00L40.15 693.30L34.60 698.60Z"/>
<path d="M29.05 696.50L34.60 691.20L40.15 696.50L34.60 701.80Z"/>
<path d="M47.25 689.30L52.80 684.00L58.35 689.30L52.80 694.60Z"/>
<path d="M44.75 691.50L50.30 686.20L55.85 691.50L50.30 696.80Z"/>
<path d="M42.45 694.40L48.00 689.10L53.55 694.40L48.00 699.70Z"/>
<path d="M29.05 717.70L34.60 712.40L40.15 717.70L34.60 723.00Z"/>
<path d="M44.65 717.70L50.20 712.40L55.75 717.70L50.20 723.00Z"/>
<path d="M41.15 723.00L46.70 717.70L52.25 723.00L46.70 728.30Z"/>
<path d="M47.05 746.70L52.60 741.40L58.15 746.70L52.60 752.00Z"/>
<path d="M43.45 779.10L49.00 773.80L54.55 779.10L49.00 784.40Z"/>
<path d="M29.05 779.10L34.60 773.80L40.15 779.10L34.60 784.40Z"/>
<line x1="34.6" y1="712.3" x2="222.4" y2="549.3" stroke-width="0.95"/>
<path d="M222.50 705.20L234.10 716.80M222.50 716.80L234.10 705.20"/>
</g>
<rect x="34.6" y="549.3" width="215.4" height="229.8" fill="none" stroke="#000" stroke-width="0.45"/>
<path d="M34.60 779.10L38.90 779.10M250.00 779.10L245.70 779.10M34.60 767.57L36.80 767.57M250.00 767.57L247.80 767.57M34.60 760.83L36.80 760.83M250.00 760.83L247.80 760.83M34.60 756.04L36.80 756.04M250.00 756.04L247.80 756.04M34.60 752.33L36.80 752.33M250.00 752.33L247.80 752.33M34.60 749.30L36.80 749.30M250.00 749.30L247.80 749.30M34.60 746.73L36.80 746.73M250.00 746.73L247.80 746.73M34.60 744.51L36.80 744.51M250.00 744.51L247.80 744.51M34.60 742.55L36.80 742.55M250.00 742.55L247.80 742.55M34.60 740.80L38.90 740.80M250.00 740.80L245.70 740.80M34.60 729.27L36.80 729.27M250.00 729.27L247.80 729.27M34.60 722.53L36.80 722.53M250.00 722.53L247.80 722.53M34.60 717.74L36.80 717.74M250.00 717.74L247.80 717.74M34.60 714.03L36.80 714.03M250.00 714.03L247.80 714.03M34.60 711.00L36.80 711.00M250.00 711.00L247.80 711.00M34.60 708.43L36.80 708.43M250.00 708.43L247.80 708.43M34.60 706.21L36.80 706.21M250.00 706.21L247.80 706.21M34.60 704.25L36.80 704.25M250.00 704.25L247.80 704.25M34.60 702.50L38.90 702.50M250.00 702.50L245.70 702.50M34.60 690.97L36.80 690.97M250.00 690.97L247.80 690.97M34.60 684.23L36.80 684.23M250.00 684.23L247.80 684.23M34.60 679.44L36.80 679.44M250.00 679.44L247.80 679.44M34.60 675.73L36.80 675.73M250.00 675.73L247.80 675.73M34.60 672.70L36.80 672.70M250.00 672.70L247.80 672.70M34.60 670.13L36.80 670.13M250.00 670.13L247.80 670.13M34.60 667.91L36.80 667.91M250.00 667.91L247.80 667.91M34.60 665.95L36.80 665.95M250.00 665.95L247.80 665.95M34.60 664.20L38.90 664.20M250.00 664.20L245.70 664.20M34.60 652.67L36.80 652.67M250.00 652.67L247.80 652.67M34.60 645.93L36.80 645.93M250.00 645.93L247.80 645.93M34.60 641.14L36.80 641.14M250.00 641.14L247.80 641.14M34.60 637.43L36.80 637.43M250.00 637.43L247.80 637.43M34.60 634.40L36.80 634.40M250.00 634.40L247.80 634.40M34.60 631.83L36.80 631.83M250.00 631.83L247.80 631.83M34.60 629.61L36.80 629.61M250.00 629.61L247.80 629.61M34.60 627.65L36.80 627.65M250.00 627.65L247.80 627.65M34.60 625.90L38.90 625.90M250.00 625.90L245.70 625.90M34.60 614.37L36.80 614.37M250.00 614.37L247.80 614.37M34.60 607.63L36.80 607.63M250.00 607.63L247.80 607.63M34.60 602.84L36.80 602.84M250.00 602.84L247.80 602.84M34.60 599.13L36.80 599.13M250.00 599.13L247.80 599.13M34.60 596.10L36.80 596.10M250.00 596.10L247.80 596.10M34.60 593.53L36.80 593.53M250.00 593.53L247.80 593.53M34.60 591.31L36.80 591.31M250.00 591.31L247.80 591.31M34.60 589.35L36.80 589.35M250.00 589.35L247.80 589.35M34.60 587.60L38.90 587.60M250.00 587.60L245.70 587.60M34.60 576.07L36.80 576.07M250.00 576.07L247.80 576.07M34.60 569.33L36.80 569.33M250.00 569.33L247.80 569.33M34.60 564.54L36.80 564.54M250.00 564.54L247.80 564.54M34.60 560.83L36.80 560.83M250.00 560.83L247.80 560.83M34.60 557.80L36.80 557.80M250.00 557.80L247.80 557.80M34.60 555.23L36.80 555.23M250.00 555.23L247.80 555.23M34.60 553.01L36.80 553.01M250.00 553.01L247.80 553.01M34.60 551.05L36.80 551.05M250.00 551.05L247.80 551.05M34.60 549.30L38.90 549.30M250.00 549.30L245.70 549.30M34.60 779.10L34.60 774.50M34.60 549.30L34.60 553.90M38.91 779.10L38.91 776.80M38.91 549.30L38.91 551.60M43.22 779.10L43.22 776.80M43.22 549.30L43.22 551.60M47.52 779.10L47.52 776.80M47.52 549.30L47.52 551.60M51.83 779.10L51.83 776.80M51.83 549.30L51.83 551.60M56.14 779.10L56.14 776.80M56.14 549.30L56.14 551.60M60.45 779.10L60.45 776.80M60.45 549.30L60.45 551.60M64.76 779.10L64.76 776.80M64.76 549.30L64.76 551.60M69.06 779.10L69.06 776.80M69.06 549.30L69.06 551.60M73.37 779.10L73.37 776.80M73.37 549.30L73.37 551.60M77.68 779.10L77.68 774.50M77.68 549.30L77.68 553.90M81.99 779.10L81.99 776.80M81.99 549.30L81.99 551.60M86.30 779.10L86.30 776.80M86.30 549.30L86.30 551.60M90.60 779.10L90.60 776.80M90.60 549.30L90.60 551.60M94.91 779.10L94.91 776.80M94.91 549.30L94.91 551.60M99.22 779.10L99.22 776.80M99.22 549.30L99.22 551.60M103.53 779.10L103.53 776.80M103.53 549.30L103.53 551.60M107.84 779.10L107.84 776.80M107.84 549.30L107.84 551.60M112.14 779.10L112.14 776.80M112.14 549.30L112.14 551.60M116.45 779.10L116.45 776.80M116.45 549.30L116.45 551.60M120.76 779.10L120.76 774.50M120.76 549.30L120.76 553.90M125.07 779.10L125.07 776.80M125.07 549.30L125.07 551.60M129.38 779.10L129.38 776.80M129.38 549.30L129.38 551.60M133.68 779.10L133.68 776.80M133.68 549.30L133.68 551.60M137.99 779.10L137.99 776.80M137.99 549.30L137.99 551.60M142.30 779.10L142.30 776.80M142.30 549.30L142.30 551.60M146.61 779.10L146.61 776.80M146.61 549.30L146.61 551.60M150.92 779.10L150.92 776.80M150.92 549.30L150.92 551.60M155.22 779.10L155.22 776.80M155.22 549.30L155.22 551.60M159.53 779.10L159.53 776.80M159.53 549.30L159.53 551.60M163.84 779.10L163.84 774.50M163.84 549.30L163.84 553.90M168.15 779.10L168.15 776.80M168.15 549.30L168.15 551.60M172.46 779.10L172.46 776.80M172.46 549.30L172.46 551.60M176.76 779.10L176.76 776.80M176.76 549.30L176.76 551.60M181.07 779.10L181.07 776.80M181.07 549.30L181.07 551.60M185.38 779.10L185.38 776.80M185.38 549.30L185.38 551.60M189.69 779.10L189.69 776.80M189.69 549.30L189.69 551.60M194.00 779.10L194.00 776.80M194.00 549.30L194.00 551.60M198.30 779.10L198.30 776.80M198.30 549.30L198.30 551.60M202.61 779.10L202.61 776.80M202.61 549.30L202.61 551.60M206.92 779.10L206.92 774.50M206.92 549.30L206.92 553.90M211.23 779.10L211.23 776.80M211.23 549.30L211.23 551.60M215.54 779.10L215.54 776.80M215.54 549.30L215.54 551.60M219.84 779.10L219.84 776.80M219.84 549.30L219.84 551.60M224.15 779.10L224.15 776.80M224.15 549.30L224.15 551.60M228.46 779.10L228.46 776.80M228.46 549.30L228.46 551.60M232.77 779.10L232.77 776.80M232.77 549.30L232.77 551.60M237.08 779.10L237.08 776.80M237.08 549.30L237.08 551.60M241.38 779.10L241.38 776.80M241.38 549.30L241.38 551.60M245.69 779.10L245.69 776.80M245.69 549.30L245.69 551.60M250.00 779.10L250.00 774.50M250.00 549.30L250.00 553.90" stroke="#000" stroke-width="0.5" fill="none"/>
<text transform="translate(34.60,789.10) scale(1.0,1.14)" font-size="7.5" text-anchor="middle" >0.0</text>
<text transform="translate(77.68,789.10) scale(1.0,1.14)" font-size="7.5" text-anchor="middle" >0.1</text>
<text transform="translate(120.76,789.10) scale(1.0,1.14)" font-size="7.5" text-anchor="middle" >0.2</text>
<text transform="translate(163.84,789.10) scale(1.0,1.14)" font-size="7.5" text-anchor="middle" >0.3</text>
<text transform="translate(206.92,789.10) scale(1.0,1.14)" font-size="7.5" text-anchor="middle" >0.4</text>
<text transform="translate(250.00,789.10) scale(1.0,1.14)" font-size="7.5" text-anchor="middle" >0.5</text>
<text transform="translate(32.60,779.25) scale(1,1.15)" font-size="7.4" text-anchor="end">10<tspan font-size="5" dx="0.3" dy="-2.6">-1</tspan></text>
<text transform="translate(32.60,743.55) scale(1,1.15)" font-size="7.4" text-anchor="end">10<tspan font-size="5" dx="0.3" dy="-2.6">0</tspan></text>
<text transform="translate(32.60,705.25) scale(1,1.15)" font-size="7.4" text-anchor="end">10<tspan font-size="5" dx="0.3" dy="-2.6">1</tspan></text>
<text transform="translate(32.60,666.95) scale(1,1.15)" font-size="7.4" text-anchor="end">10<tspan font-size="5" dx="0.3" dy="-2.6">2</tspan></text>
<text transform="translate(32.60,628.65) scale(1,1.15)" font-size="7.4" text-anchor="end">10<tspan font-size="5" dx="0.3" dy="-2.6">3</tspan></text>
<text transform="translate(32.60,590.35) scale(1,1.15)" font-size="7.4" text-anchor="end">10<tspan font-size="5" dx="0.3" dy="-2.6">4</tspan></text>
<text transform="translate(32.60,554.05) scale(1,1.15)" font-size="7.4" text-anchor="end">10<tspan font-size="5" dx="0.3" dy="-2.6">5</tspan></text>
<text transform="translate(142.30,545.50) scale(1.0,1.14)" font-size="9.8" text-anchor="middle" >Hecto B.A. Flux vs SEP</text>
<text transform="translate(142.30,797.90) scale(1.0,1.14)" font-size="7.9" text-anchor="middle" >B.A. flux relative to Background</text>
<text transform="translate(13.00,664.20) rotate(-90) scale(1,1.22)" x="0" y="0" font-size="7.95" text-anchor="middle">&gt; 10 MeV Protons/(cm2 sr-s) at GOES</text>
<text x="-1.00" y="547.00" font-size="21.5" text-anchor="start" class="big">(e)</text>
<text transform="translate(47.45,568.90) scale(1.015,1.0)" font-size="15.4" text-anchor="start" class="big">R_p=0.48</text>
<text transform="translate(47.45,586.90) scale(1.015,1.0)" font-size="15.4" text-anchor="start" class="big">R_s=0.49</text>
<text transform="translate(133.65,586.90) scale(1.015,1.0)" font-size="15.4" text-anchor="start" class="big">P=0.0122</text>
<clipPath id="c5"><rect x="303.6" y="549.3" width="215.4" height="229.8"/></clipPath>
<g clip-path="url(#c5)" fill="none" stroke="#555" stroke-width="1.1">
<path d="M362.95 617.10L368.50 611.80L374.05 617.10L368.50 622.40Z"/>
<path d="M308.85 631.80L314.40 626.50L319.95 631.80L314.40 637.10Z"/>
<path d="M338.05 628.50L343.60 623.20L349.15 628.50L343.60 633.80Z"/>
<path d="M339.15 648.60L344.70 643.30L350.25 648.60L344.70 653.90Z"/>
<path d="M298.05 651.90L303.60 646.60L309.15 651.90L303.60 657.20Z"/>
<path d="M298.75 669.10L304.30 663.80L309.85 669.10L304.30 674.40Z"/>
<path d="M315.25 667.70L320.80 662.40L326.35 667.70L320.80 673.00Z"/>
<path d="M321.25 667.20L326.80 661.90L332.35 667.20L326.80 672.50Z"/>
<path d="M326.85 672.80L332.40 667.50L337.95 672.80L332.40 678.10Z"/>
<path d="M319.35 678.50L324.90 673.20L330.45 678.50L324.90 683.80Z"/>
<path d="M316.95 689.70L322.50 684.40L328.05 689.70L322.50 695.00Z"/>
<path d="M311.85 694.90L317.40 689.60L322.95 694.90L317.40 700.20Z"/>
<path d="M298.05 686.20L303.60 680.90L309.15 686.20L303.60 691.50Z"/>
<path d="M298.45 689.50L304.00 684.20L309.55 689.50L304.00 694.80Z"/>
<path d="M298.25 692.50L303.80 687.20L309.35 692.50L303.80 697.80Z"/>
<path d="M298.05 695.50L303.60 690.20L309.15 695.50L303.60 700.80Z"/>
<path d="M298.05 717.40L303.60 712.10L309.15 717.40L303.60 722.70Z"/>
<path d="M299.05 722.10L304.60 716.80L310.15 722.10L304.60 727.40Z"/>
<path d="M303.85 747.10L309.40 741.80L314.95 747.10L309.40 752.40Z"/>
<path d="M303.85 779.10L309.40 773.80L314.95 779.10L309.40 784.40Z"/>
<path d="M298.05 779.10L303.60 773.80L309.15 779.10L303.60 784.40Z"/>
<line x1="303.6" y1="711.8" x2="404.8" y2="549.3" stroke-width="0.95"/>
<path d="M472.70 704.80L484.30 716.40M472.70 716.40L484.30 704.80"/>
</g>
<rect x="303.6" y="549.3" width="215.4" height="229.8" fill="none" stroke="#000" stroke-width="0.45"/>
<path d="M303.60 779.10L307.90 779.10M519.00 779.10L514.70 779.10M303.60 767.57L305.80 767.57M519.00 767.57L516.80 767.57M303.60 760.83L305.80 760.83M519.00 760.83L516.80 760.83M303.60 756.04L305.80 756.04M519.00 756.04L516.80 756.04M303.60 752.33L305.80 752.33M519.00 752.33L516.80 752.33M303.60 749.30L305.80 749.30M519.00 749.30L516.80 749.30M303.60 746.73L305.80 746.73M519.00 746.73L516.80 746.73M303.60 744.51L305.80 744.51M519.00 744.51L516.80 744.51M303.60 742.55L305.80 742.55M519.00 742.55L516.80 742.55M303.60 740.80L307.90 740.80M519.00 740.80L514.70 740.80M303.60 729.27L305.80 729.27M519.00 729.27L516.80 729.27M303.60 722.53L305.80 722.53M519.00 722.53L516.80 722.53M303.60 717.74L305.80 717.74M519.00 717.74L516.80 717.74M303.60 714.03L305.80 714.03M519.00 714.03L516.80 714.03M303.60 711.00L305.80 711.00M519.00 711.00L516.80 711.00M303.60 708.43L305.80 708.43M519.00 708.43L516.80 708.43M303.60 706.21L305.80 706.21M519.00 706.21L516.80 706.21M303.60 704.25L305.80 704.25M519.00 704.25L516.80 704.25M303.60 702.50L307.90 702.50M519.00 702.50L514.70 702.50M303.60 690.97L305.80 690.97M519.00 690.97L516.80 690.97M303.60 684.23L305.80 684.23M519.00 684.23L516.80 684.23M303.60 679.44L305.80 679.44M519.00 679.44L516.80 679.44M303.60 675.73L305.80 675.73M519.00 675.73L516.80 675.73M303.60 672.70L305.80 672.70M519.00 672.70L516.80 672.70M303.60 670.13L305.80 670.13M519.00 670.13L516.80 670.13M303.60 667.91L305.80 667.91M519.00 667.91L516.80 667.91M303.60 665.95L305.80 665.95M519.00 665.95L516.80 665.95M303.60 664.20L307.90 664.20M519.00 664.20L514.70 664.20M303.60 652.67L305.80 652.67M519.00 652.67L516.80 652.67M303.60 645.93L305.80 645.93M519.00 645.93L516.80 645.93M303.60 641.14L305.80 641.14M519.00 641.14L516.80 641.14M303.60 637.43L305.80 637.43M519.00 637.43L516.80 637.43M303.60 634.40L305.80 634.40M519.00 634.40L516.80 634.40M303.60 631.83L305.80 631.83M519.00 631.83L516.80 631.83M303.60 629.61L305.80 629.61M519.00 629.61L516.80 629.61M303.60 627.65L305.80 627.65M519.00 627.65L516.80 627.65M303.60 625.90L307.90 625.90M519.00 625.90L514.70 625.90M303.60 614.37L305.80 614.37M519.00 614.37L516.80 614.37M303.60 607.63L305.80 607.63M519.00 607.63L516.80 607.63M303.60 602.84L305.80 602.84M519.00 602.84L516.80 602.84M303.60 599.13L305.80 599.13M519.00 599.13L516.80 599.13M303.60 596.10L305.80 596.10M519.00 596.10L516.80 596.10M303.60 593.53L305.80 593.53M519.00 593.53L516.80 593.53M303.60 591.31L305.80 591.31M519.00 591.31L516.80 591.31M303.60 589.35L305.80 589.35M519.00 589.35L516.80 589.35M303.60 587.60L307.90 587.60M519.00 587.60L514.70 587.60M303.60 576.07L305.80 576.07M519.00 576.07L516.80 576.07M303.60 569.33L305.80 569.33M519.00 569.33L516.80 569.33M303.60 564.54L305.80 564.54M519.00 564.54L516.80 564.54M303.60 560.83L305.80 560.83M519.00 560.83L516.80 560.83M303.60 557.80L305.80 557.80M519.00 557.80L516.80 557.80M303.60 555.23L305.80 555.23M519.00 555.23L516.80 555.23M303.60 553.01L305.80 553.01M519.00 553.01L516.80 553.01M303.60 551.05L305.80 551.05M519.00 551.05L516.80 551.05M303.60 549.30L307.90 549.30M519.00 549.30L514.70 549.30M303.60 779.10L303.60 774.50M303.60 549.30L303.60 553.90M307.91 779.10L307.91 776.80M307.91 549.30L307.91 551.60M312.22 779.10L312.22 776.80M312.22 549.30L312.22 551.60M316.52 779.10L316.52 776.80M316.52 549.30L316.52 551.60M320.83 779.10L320.83 776.80M320.83 549.30L320.83 551.60M325.14 779.10L325.14 776.80M325.14 549.30L325.14 551.60M329.45 779.10L329.45 776.80M329.45 549.30L329.45 551.60M333.76 779.10L333.76 776.80M333.76 549.30L333.76 551.60M338.06 779.10L338.06 776.80M338.06 549.30L338.06 551.60M342.37 779.10L342.37 776.80M342.37 549.30L342.37 551.60M346.68 779.10L346.68 774.50M346.68 549.30L346.68 553.90M350.99 779.10L350.99 776.80M350.99 549.30L350.99 551.60M355.30 779.10L355.30 776.80M355.30 549.30L355.30 551.60M359.60 779.10L359.60 776.80M359.60 549.30L359.60 551.60M363.91 779.10L363.91 776.80M363.91 549.30L363.91 551.60M368.22 779.10L368.22 776.80M368.22 549.30L368.22 551.60M372.53 779.10L372.53 776.80M372.53 549.30L372.53 551.60M376.84 779.10L376.84 776.80M376.84 549.30L376.84 551.60M381.14 779.10L381.14 776.80M381.14 549.30L381.14 551.60M385.45 779.10L385.45 776.80M385.45 549.30L385.45 551.60M389.76 779.10L389.76 774.50M389.76 549.30L389.76 553.90M394.07 779.10L394.07 776.80M394.07 549.30L394.07 551.60M398.38 779.10L398.38 776.80M398.38 549.30L398.38 551.60M402.68 779.10L402.68 776.80M402.68 549.30L402.68 551.60M406.99 779.10L406.99 776.80M406.99 549.30L406.99 551.60M411.30 779.10L411.30 776.80M411.30 549.30L411.30 551.60M415.61 779.10L415.61 776.80M415.61 549.30L415.61 551.60M419.92 779.10L419.92 776.80M419.92 549.30L419.92 551.60M424.22 779.10L424.22 776.80M424.22 549.30L424.22 551.60M428.53 779.10L428.53 776.80M428.53 549.30L428.53 551.60M432.84 779.10L432.84 774.50M432.84 549.30L432.84 553.90M437.15 779.10L437.15 776.80M437.15 549.30L437.15 551.60M441.46 779.10L441.46 776.80M441.46 549.30L441.46 551.60M445.76 779.10L445.76 776.80M445.76 549.30L445.76 551.60M450.07 779.10L450.07 776.80M450.07 549.30L450.07 551.60M454.38 779.10L454.38 776.80M454.38 549.30L454.38 551.60M458.69 779.10L458.69 776.80M458.69 549.30L458.69 551.60M463.00 779.10L463.00 776.80M463.00 549.30L463.00 551.60M467.30 779.10L467.30 776.80M467.30 549.30L467.30 551.60M471.61 779.10L471.61 776.80M471.61 549.30L471.61 551.60M475.92 779.10L475.92 774.50M475.92 549.30L475.92 553.90M480.23 779.10L480.23 776.80M480.23 549.30L480.23 551.60M484.54 779.10L484.54 776.80M484.54 549.30L484.54 551.60M488.84 779.10L488.84 776.80M488.84 549.30L488.84 551.60M493.15 779.10L493.15 776.80M493.15 549.30L493.15 551.60M497.46 779.10L497.46 776.80M497.46 549.30L497.46 551.60M501.77 779.10L501.77 776.80M501.77 549.30L501.77 551.60M506.08 779.10L506.08 776.80M506.08 549.30L506.08 551.60M510.38 779.10L510.38 776.80M510.38 549.30L510.38 551.60M514.69 779.10L514.69 776.80M514.69 549.30L514.69 551.60M519.00 779.10L519.00 774.50M519.00 549.30L519.00 553.90" stroke="#000" stroke-width="0.5" fill="none"/>
<text transform="translate(303.60,789.10) scale(1.0,1.14)" font-size="7.5" text-anchor="middle" >0.0</text>
<text transform="translate(346.68,789.10) scale(1.0,1.14)" font-size="7.5" text-anchor="middle" >0.1</text>
<text transform="translate(389.76,789.10) scale(1.0,1.14)" font-size="7.5" text-anchor="middle" >0.2</text>
<text transform="translate(432.84,789.10) scale(1.0,1.14)" font-size="7.5" text-anchor="middle" >0.3</text>
<text transform="translate(475.92,789.10) scale(1.0,1.14)" font-size="7.5" text-anchor="middle" >0.4</text>
<text transform="translate(519.00,789.10) scale(1.0,1.14)" font-size="7.5" text-anchor="middle" >0.5</text>
<text transform="translate(301.60,779.25) scale(1,1.15)" font-size="7.4" text-anchor="end">10<tspan font-size="5" dx="0.3" dy="-2.6">-1</tspan></text>
<text transform="translate(301.60,743.55) scale(1,1.15)" font-size="7.4" text-anchor="end">10<tspan font-size="5" dx="0.3" dy="-2.6">0</tspan></text>
<text transform="translate(301.60,705.25) scale(1,1.15)" font-size="7.4" text-anchor="end">10<tspan font-size="5" dx="0.3" dy="-2.6">1</tspan></text>
<text transform="translate(301.60,666.95) scale(1,1.15)" font-size="7.4" text-anchor="end">10<tspan font-size="5" dx="0.3" dy="-2.6">2</tspan></text>
<text transform="translate(301.60,628.65) scale(1,1.15)" font-size="7.4" text-anchor="end">10<tspan font-size="5" dx="0.3" dy="-2.6">3</tspan></text>
<text transform="translate(301.60,590.35) scale(1,1.15)" font-size="7.4" text-anchor="end">10<tspan font-size="5" dx="0.3" dy="-2.6">4</tspan></text>
<text transform="translate(301.60,554.05) scale(1,1.15)" font-size="7.4" text-anchor="end">10<tspan font-size="5" dx="0.3" dy="-2.6">5</tspan></text>
<text transform="translate(411.30,545.50) scale(1.0,1.14)" font-size="9.8" text-anchor="middle" >Hecto T.A. Flux vs SEP</text>
<text transform="translate(411.30,797.90) scale(1.0,1.14)" font-size="7.9" text-anchor="middle" >T.A. Flux relative to Background</text>
<text transform="translate(282.00,664.20) rotate(-90) scale(1,1.22)" x="0" y="0" font-size="7.95" text-anchor="middle">&gt; 10 MeV Protons/(cm2 sr-s) at GOES</text>
<text x="267.90" y="547.00" font-size="21.5" text-anchor="start" class="big">(f)</text>
<text transform="translate(316.45,568.90) scale(1.015,1.0)" font-size="15.4" text-anchor="start" class="big">R_p=0.62</text>
<text transform="translate(316.45,586.90) scale(1.015,1.0)" font-size="15.4" text-anchor="start" class="big">R_s=0.59</text>
<text transform="translate(402.65,586.90) scale(1.015,1.0)" font-size="15.4" text-anchor="start" class="big">P=0.0018</text>
</svg>
</body></html>
